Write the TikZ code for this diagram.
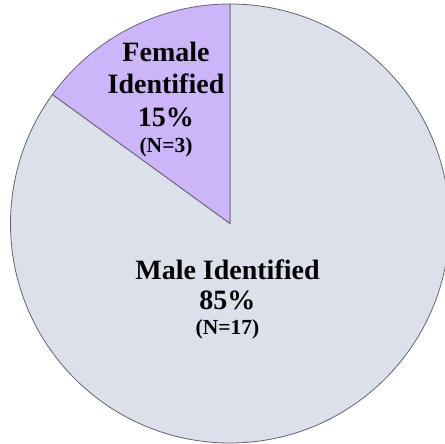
\documentclass[tikz,border=0pt]{standalone}
\usepackage{fontspec}
\setmainfont{Liberation Serif}
\usetikzlibrary{positioning}
\definecolor{malefill}{RGB}{220,224,235}
\definecolor{femalefill}{RGB}{205,181,250}
\definecolor{edgegray}{RGB}{100,100,110}

\begin{document}
\begin{tikzpicture}[
    x=1pt, y=1pt,
    every node/.style={font=\bfseries, inner sep=0pt},
    slice/.style={draw=edgegray, line width=0.8pt},
    bigtext/.style={font=\fontsize{28}{32}\selectfont\bfseries, anchor=base},
    smalltext/.style={font=\fontsize{21.5}{25}\selectfont\bfseries, anchor=base},
]
\useasboundingbox (-230,-220.5) rectangle (215,223.5);

% Centre of the pie
\coordinate (centre) at (0,0);

% Male slice (85%)
\filldraw[slice, fill=malefill] (centre) -- (90:219.5) arc (90:-216:219.5) -- cycle;

% Female slice (15%)
\filldraw[slice, fill=femalefill] (centre) -- (90:219.5) arc (90:144:219.5) -- cycle;

% Female labels
\node[bigtext] (femaleword) at (-64,161.8) {Female};
\node[bigtext] (femaleid) at (-64,130.2) {Identified};
\node[bigtext] (femalepct) at (-64,96.8) {15\%};
\node[smalltext] (femalen) at (-64,70.5) {(N=3)};

% Male labels
\node[bigtext] (maleid) at (-2.5,-56.5) {Male Identified};
\node[bigtext] (malepct) at (-2.5,-86.5) {85\%};
\node[smalltext] (malen) at (-2.5,-111.5) {(N=17)};

\end{tikzpicture}
\end{document}
